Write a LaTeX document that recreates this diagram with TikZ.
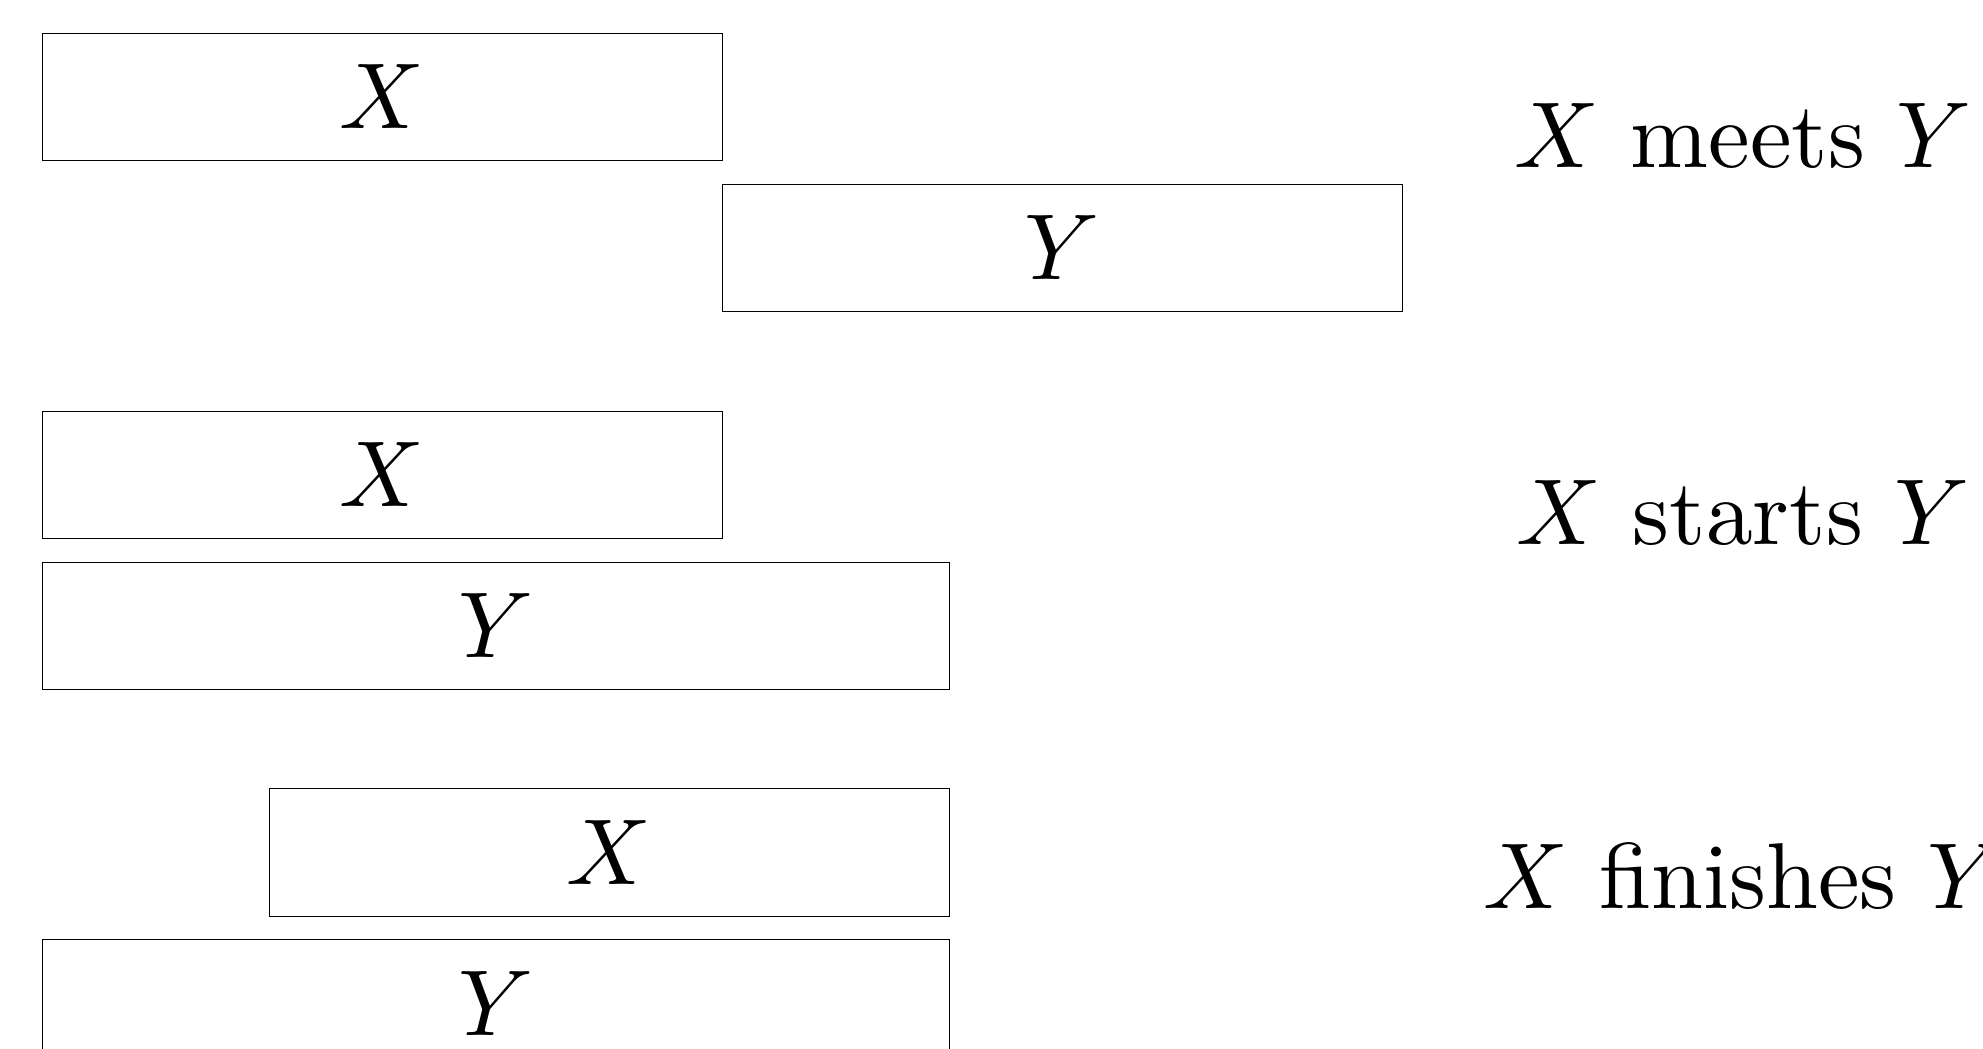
\documentclass[tikz,border=0pt]{standalone}
\usepackage{graphicx}
\newcommand{\bigtxt}[1]{\scalebox{4.68}{#1}}
\begin{document}
\begin{tikzpicture}[x=0.5pt,y=-0.5pt,
  interval/.style={draw, line width=0.6pt, rectangle, inner sep=0pt, minimum height=63.75pt, anchor=north west},
  shortbox/.style={interval, minimum width=340pt},
  longbox/.style={interval, minimum width=453.5pt},
  relation/.style={anchor=base, inner sep=0pt}]
\clip (0,0) rectangle (1983,1049);
% meets
\node[shortbox] (x1) at (41.5,32.5) {\bigtxt{$X$}};
\node[shortbox] (y1) at (721.5,183.5) {\bigtxt{$Y$}};
% starts
\node[shortbox] (x2) at (41.5,410.5) {\bigtxt{$X$}};
\node[longbox] (y2) at (41.5,561.5) {\bigtxt{$Y$}};
% finishes
\node[shortbox] (x3) at (268.5,788) {\bigtxt{$X$}};
\node[longbox] (y3) at (41.5,939) {\bigtxt{$Y$}};
% relation labels
\node[relation] (r1) at (1743,167.3) {\bigtxt{$X$ meets $Y$}};
\node[relation] (r2) at (1743,544) {\bigtxt{$X$ starts $Y$}};
\node[relation] (r3) at (1743,908.3) {\bigtxt{$X$ finishes $Y$}};
\end{tikzpicture}
\end{document}
